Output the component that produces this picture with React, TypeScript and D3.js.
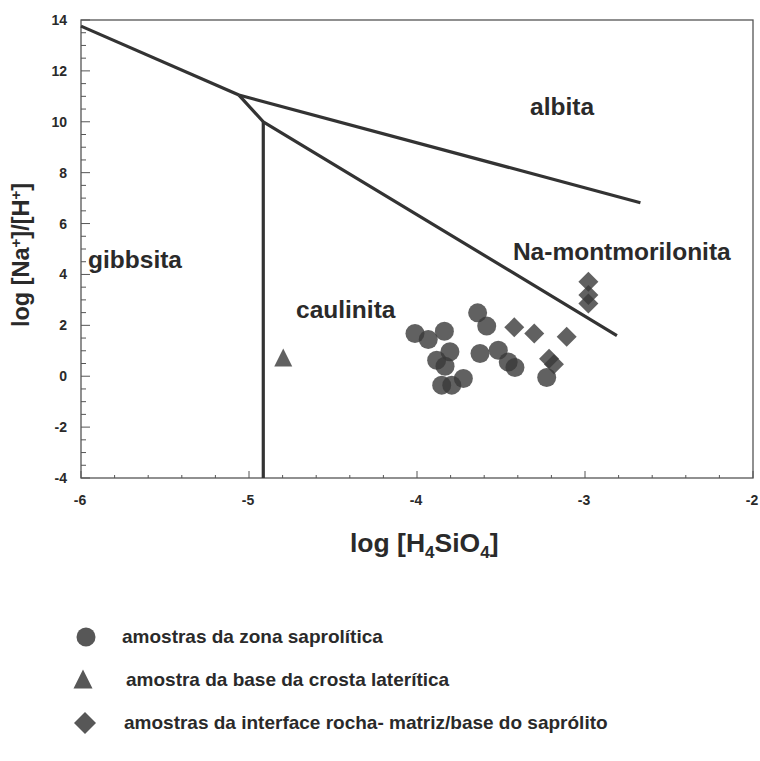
import React from "react";
import * as d3 from "d3";

const xTicks = [-6, -5, -4, -3, -2];
const yTicks = [-4, -2, 0, 2, 4, 6, 8, 10, 12, 14];

// phase boundary lines
const lineGibbsAlbita: [number, number][] = [[-6, 13.76], [-5.06, 11.05]];
const lineUpper: [number, number][] = [[-5.06, 11.05], [-2.67, 6.82]];
const lineLower: [number, number][] = [[-5.06, 11.05], [-4.915, 10.0], [-2.81, 1.6]];
const lineVertical: [number, number][] = [[-4.915, 10.0], [-4.915, -4]];

// samples
const saproliticaX = [-4.012, -3.933, -3.837, -3.639, -3.585, -3.804, -3.883, -3.833, -3.853, -3.793, -3.724, -3.625, -3.516, -3.457, -3.417, -3.228];
const saproliticaY = [1.68, 1.44, 1.77, 2.49, 1.97, 0.96, 0.63, 0.39, -0.35, -0.35, -0.09, 0.89, 1.02, 0.56, 0.34, -0.05];
const crostaX = [-4.796];
const crostaY = [0.7];
const interfaceX = [-3.421, -3.302, -3.109, -3.214, -3.185, -2.98, -2.98, -2.98];
const interfaceY = [1.92, 1.68, 1.55, 0.69, 0.47, 3.71, 3.19, 2.86];

const regionLabels = ["albita", "gibbsita", "Na-montmorilonita", "caulinita"];
const regionPos: [number, number][] = [[-3.327, 10.26], [-5.958, 4.25], [-3.429, 4.56], [-4.72, 2.28]];

const legendLabels = [
  "amostras da zona saprolítica",
  "amostra da base da crosta laterítica",
  "amostras da interface rocha- matriz/base do saprólito",
];

const W = 760, H = 761;
const M = { left: 81, right: 753, top: 20, bottom: 478 };
const FONT = "'Liberation Sans', Arial, sans-serif";
const INK = "#2a2a2a";
const MARK = "#3a3a3a";

export default function App() {
  const x = d3.scaleLinear().domain([-6, -2]).range([M.left, M.right]);
  const y = d3.scaleLinear().domain([-4, 14]).range([M.bottom, M.top]);
  const line = d3.line<[number, number]>().x((d) => x(d[0])).y((d) => y(d[1]));
  const xMinor = d3.range(-6, -1.99, 0.2).map((v) => +v.toFixed(2));
  const yMinor = d3.range(-4, 14.01, 0.5).map((v) => +v.toFixed(2));
  const diamond = (cx: number, cy: number, r: number) =>
    `M${cx},${cy - r}L${cx + r},${cy}L${cx},${cy + r}L${cx - r},${cy}Z`;
  const tri = (cx: number, cy: number, s: number) =>
    `M${cx},${cy - s * 0.55}L${cx + s / 2},${cy + s * 0.45}L${cx - s / 2},${cy + s * 0.45}Z`;

  return (
    <svg width={W} height={H} style={{ position: "absolute", left: 0, top: 0, background: "#fff" }} fontFamily={FONT}>
      {/* frame */}
      <rect x={M.left} y={M.top} width={M.right - M.left} height={M.bottom - M.top} fill="none" stroke="#555" strokeWidth={1.3} />
      {/* ticks */}
      {xMinor.map((v, i) => {
        const major = Math.abs(v - Math.round(v)) < 1e-6;
        return <line key={"xm" + i} x1={x(v)} x2={x(v)} y1={M.bottom} y2={M.bottom - (major ? 7 : 3)} stroke="#555" strokeWidth={1} />;
      })}
      {yMinor.map((v, i) => {
        const major = Math.abs(v / 2 - Math.round(v / 2)) < 1e-6;
        return <line key={"ym" + i} x1={M.left} x2={M.left + (major ? 9 : 5)} y1={y(v)} y2={y(v)} stroke="#555" strokeWidth={1} />;
      })}
      {xTicks.map((v) => (
        <text key={"xt" + v} x={x(v) - 1} y={505} textAnchor="middle" fontSize={14} fontWeight="bold" fill={INK}>{v}</text>
      ))}
      {yTicks.map((v) => (
        <text key={"yt" + v} x={67} y={y(v) + 5} textAnchor="end" fontSize={14} fontWeight="bold" fill={INK}>{v}</text>
      ))}
      {/* axis titles */}
      <text x={350} y={552} textAnchor="start" fontSize={26.5} fontWeight="bold" fill={INK}>
        log [H<tspan dy={6} fontSize={17}>4</tspan><tspan dy={-6}>SiO</tspan><tspan dy={6} fontSize={17}>4</tspan><tspan dy={-6}>]</tspan>
      </text>
      <text transform={`translate(29,${255}) rotate(-90)`} textAnchor="middle" fontSize={23.5} fontWeight="bold" fill={INK}>
        log  [Na<tspan dy={-8} fontSize={15}>+</tspan><tspan dy={8}>]/[H</tspan><tspan dy={-8} fontSize={15}>+</tspan><tspan dy={8}>]</tspan>
      </text>
      {/* boundaries */}
      {[lineGibbsAlbita, lineUpper, lineLower, lineVertical].map((l, i) => (
        <path key={"l" + i} d={line(l) || ""} fill="none" stroke="#333" strokeWidth={3.2} strokeLinejoin="round" />
      ))}
      {/* region labels */}
      {regionLabels.map((t, i) => (
        <text key={t} x={x(regionPos[i][0])} y={y(regionPos[i][1])} fontSize={24.5} fontWeight="bold" fill={INK}>{t}</text>
      ))}
      {/* data */}
      {saproliticaX.map((v, i) => (
        <circle key={"c" + i} cx={x(v)} cy={y(saproliticaY[i])} r={9.5} fill={MARK} fillOpacity={0.8} />
      ))}
      {crostaX.map((v, i) => (
        <path key={"t" + i} d={tri(x(v), y(crostaY[i]), 18)} fill={MARK} fillOpacity={0.8} />
      ))}
      {interfaceX.map((v, i) => (
        <path key={"d" + i} d={diamond(x(v), y(interfaceY[i]), 10)} fill={MARK} fillOpacity={0.8} />
      ))}
      {/* legend */}
      <circle cx={86} cy={637} r={9.5} fill={MARK} fillOpacity={0.85} />
      <text x={122} y={643} fontSize={19} fontWeight="bold" fill={INK}>{legendLabels[0]}</text>
      <path d={tri(83, 680, 19)} fill={MARK} fillOpacity={0.85} />
      <text x={126} y={686} fontSize={19} fontWeight="bold" fill={INK}>{legendLabels[1]}</text>
      <path d={diamond(85, 723, 11)} fill={MARK} fillOpacity={0.85} />
      <text x={124} y={729} fontSize={19} fontWeight="bold" fill={INK}>{legendLabels[2]}</text>
    </svg>
  );
}
